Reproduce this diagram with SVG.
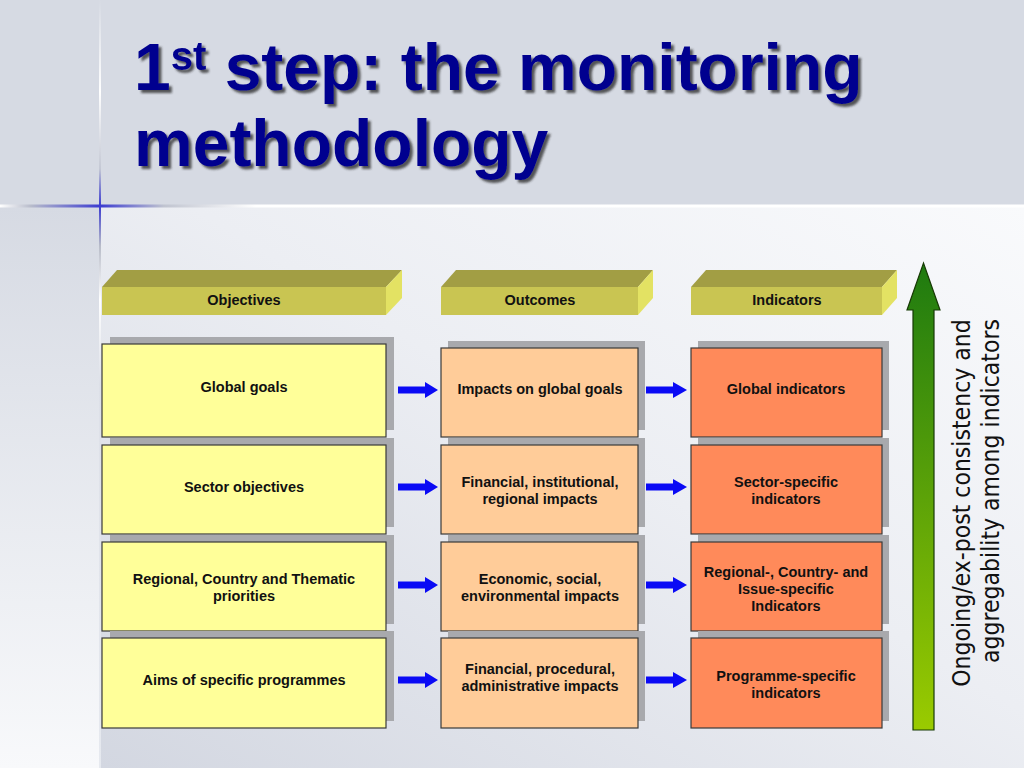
<svg xmlns="http://www.w3.org/2000/svg" width="1024" height="768" viewBox="0 0 1024 768">
  <defs>
    <linearGradient id="bodyGrad" x1="0" y1="1" x2="1" y2="0">
      <stop offset="0" stop-color="#d3d7e1"/>
      <stop offset="0.55" stop-color="#eceef3"/>
      <stop offset="1" stop-color="#f9fafc"/>
    </linearGradient>
    <linearGradient id="leftGrad" x1="0" y1="0" x2="0" y2="1">
      <stop offset="0" stop-color="#d6dae3"/>
      <stop offset="1" stop-color="#f8f9fb"/>
    </linearGradient>
    <linearGradient id="hLine" x1="0" y1="0" x2="1024" y2="0" gradientUnits="userSpaceOnUse">
      <stop offset="0" stop-color="#ffffff"/>
      <stop offset="0.03" stop-color="#b8bccb"/>
      <stop offset="0.098" stop-color="#3b3bd0"/>
      <stop offset="0.16" stop-color="#c0c4d0"/>
      <stop offset="0.25" stop-color="#ffffff"/>
      <stop offset="1" stop-color="#ffffff"/>
    </linearGradient>
    <linearGradient id="vLine" x1="0" y1="0" x2="0" y2="768" gradientUnits="userSpaceOnUse">
      <stop offset="0" stop-color="#d6dae3"/>
      <stop offset="0.12" stop-color="#ffffff"/>
      <stop offset="0.22" stop-color="#c4c8d4"/>
      <stop offset="0.268" stop-color="#3b3bd0"/>
      <stop offset="0.32" stop-color="#b8bcc8"/>
      <stop offset="0.39" stop-color="#ffffff"/>
      <stop offset="0.5" stop-color="#dde0e8"/>
      <stop offset="1" stop-color="#e6e9ef"/>
    </linearGradient>
    <linearGradient id="greenGrad" x1="0" y1="0" x2="0" y2="1">
      <stop offset="0" stop-color="#1e7a10"/>
      <stop offset="1" stop-color="#9acb00"/>
    </linearGradient>
    <filter id="titleShadow" x="-5%" y="-10%" width="110%" height="130%">
      <feGaussianBlur in="SourceAlpha" stdDeviation="0.8"/>
      <feOffset dx="3" dy="3" result="o"/>
      <feFlood flood-color="#2a2a2a" flood-opacity="0.75"/>
      <feComposite in2="o" operator="in"/>
      <feMerge>
        <feMergeNode/>
        <feMergeNode in="SourceGraphic"/>
      </feMerge>
    </filter>
  </defs>
  <style>
    .title { font-family: "Liberation Sans", Arial, sans-serif; font-weight: bold; font-size: 66px; fill: #00008f; }
    .lbl { font-family: "Liberation Sans", Arial, sans-serif; font-weight: bold; font-size: 14.5px; fill: #111111; text-anchor: middle; }
    .side { font-family: "DejaVu Sans Condensed", "DejaVu Sans", sans-serif; font-size: 24.5px; fill: #111111; text-anchor: middle; }
    .front { fill: #c9c552; }
    .top { fill: #a29e44; }
    .right { fill: #e3e263; }
    .shadow { fill: #a8a9ad; }
    .obj { fill: #ffff99; stroke: #3a3a3a; stroke-width: 1.2; }
    .out { fill: #ffcc99; stroke: #3a3a3a; stroke-width: 1.2; }
    .ind { fill: #ff8a5a; stroke: #3a3a3a; stroke-width: 1.2; }
    .arrow { fill: #0a0af5; }
  </style>

  <!-- background -->
  <rect x="0" y="0" width="1024" height="768" fill="#d6dae3"/>
  <rect x="0" y="207" width="100" height="561" fill="url(#leftGrad)"/>
  <rect x="100" y="207" width="924" height="561" fill="url(#bodyGrad)"/>
  <rect x="0" y="204.5" width="1024" height="3" fill="url(#hLine)"/>
  <rect x="99" y="0" width="2" height="768" fill="url(#vLine)"/>

  <!-- title -->
  <g id="title" filter="url(#titleShadow)">
    <text class="title" x="134" y="90">1<tspan font-size="40" dy="-20">st</tspan><tspan dy="20"> step: the monitoring</tspan></text>
    <text class="title" x="134" y="166">methodology</text>
  </g>

  <!-- column headers -->
  <g id="hdr-objectives">
    <polygon class="top" points="102,287 117,270 402,270 386,287"/>
    <polygon class="right" points="386,287 402,270 402,298 386,315"/>
    <rect class="front" x="102" y="287" width="284" height="28"/>
    <text class="lbl" x="244" y="305">Objectives</text>
  </g>
  <g id="hdr-outcomes">
    <polygon class="top" points="441,287 456,270 653,270 638,287"/>
    <polygon class="right" points="638,287 653,270 653,298 638,315"/>
    <rect class="front" x="441" y="287" width="197" height="28"/>
    <text class="lbl" x="540" y="305">Outcomes</text>
  </g>
  <g id="hdr-indicators">
    <polygon class="top" points="691,287 706,270 897,270 882,287"/>
    <polygon class="right" points="882,287 897,270 897,298 882,315"/>
    <rect class="front" x="691" y="287" width="191" height="28"/>
    <text class="lbl" x="787" y="305">Indicators</text>
  </g>

  <!-- objectives column -->
  <g id="obj-global">
    <rect class="shadow" x="110" y="337" width="284" height="93"/>
    <rect class="obj" x="102" y="344" width="284" height="93"/>
    <text class="lbl" x="244" y="392">Global goals</text>
  </g>
  <g id="obj-sector">
    <rect class="shadow" x="110" y="438" width="284" height="89"/>
    <rect class="obj" x="102" y="445" width="284" height="89"/>
    <text class="lbl" x="244" y="492">Sector objectives</text>
  </g>
  <g id="obj-regional">
    <rect class="shadow" x="110" y="535" width="284" height="89"/>
    <rect class="obj" x="102" y="542" width="284" height="89"/>
    <text class="lbl" x="244" y="584">Regional, Country and Thematic</text>
    <text class="lbl" x="244" y="601">priorities</text>
  </g>
  <g id="obj-programmes">
    <rect class="shadow" x="110" y="631" width="284" height="90"/>
    <rect class="obj" x="102" y="638" width="284" height="90"/>
    <text class="lbl" x="244" y="685">Aims of specific programmes</text>
  </g>

  <!-- outcomes column -->
  <g id="out-global">
    <rect class="shadow" x="448" y="341" width="197" height="89"/>
    <rect class="out" x="441" y="348" width="197" height="89"/>
    <text class="lbl" x="540" y="394">Impacts on global goals</text>
  </g>
  <g id="out-sector">
    <rect class="shadow" x="448" y="438" width="197" height="89"/>
    <rect class="out" x="441" y="445" width="197" height="89"/>
    <text class="lbl" x="540" y="487">Financial, institutional,</text>
    <text class="lbl" x="540" y="504">regional impacts</text>
  </g>
  <g id="out-regional">
    <rect class="shadow" x="448" y="535" width="197" height="89"/>
    <rect class="out" x="441" y="542" width="197" height="89"/>
    <text class="lbl" x="540" y="584">Economic, social,</text>
    <text class="lbl" x="540" y="601">environmental impacts</text>
  </g>
  <g id="out-programmes">
    <rect class="shadow" x="448" y="631" width="197" height="90"/>
    <rect class="out" x="441" y="638" width="197" height="90"/>
    <text class="lbl" x="540" y="674">Financial, procedural,</text>
    <text class="lbl" x="540" y="691">administrative impacts</text>
  </g>

  <!-- indicators column -->
  <g id="ind-global">
    <rect class="shadow" x="698" y="341" width="191" height="89"/>
    <rect class="ind" x="691" y="348" width="191" height="89"/>
    <text class="lbl" x="786" y="394">Global indicators</text>
  </g>
  <g id="ind-sector">
    <rect class="shadow" x="698" y="438" width="191" height="89"/>
    <rect class="ind" x="691" y="445" width="191" height="89"/>
    <text class="lbl" x="786" y="487">Sector-specific</text>
    <text class="lbl" x="786" y="504">indicators</text>
  </g>
  <g id="ind-regional">
    <rect class="shadow" x="698" y="535" width="191" height="89"/>
    <rect class="ind" x="691" y="542" width="191" height="89"/>
    <text class="lbl" x="786" y="577">Regional-, Country- and</text>
    <text class="lbl" x="786" y="594">Issue-specific</text>
    <text class="lbl" x="786" y="611">Indicators</text>
  </g>
  <g id="ind-programmes">
    <rect class="shadow" x="698" y="631" width="191" height="90"/>
    <rect class="ind" x="691" y="638" width="191" height="90"/>
    <text class="lbl" x="786" y="681">Programme-specific</text>
    <text class="lbl" x="786" y="698">indicators</text>
  </g>

  <!-- connectors -->
  <g id="connectors">
    <polygon class="arrow" points="398,386.5 425,386.5 425,382 438,390 425,398 425,393.5 398,393.5"/>
    <polygon class="arrow" points="398,483.5 425,483.5 425,479 438,487 425,495 425,490.5 398,490.5"/>
    <polygon class="arrow" points="398,581.5 425,581.5 425,577 438,585 425,593 425,588.5 398,588.5"/>
    <polygon class="arrow" points="398,676.5 425,676.5 425,672 438,680 425,688 425,683.5 398,683.5"/>
    <polygon class="arrow" points="646,386.5 673,386.5 673,382 687,390 673,398 673,393.5 646,393.5"/>
    <polygon class="arrow" points="646,483.5 673,483.5 673,479 687,487 673,495 673,490.5 646,490.5"/>
    <polygon class="arrow" points="646,581.5 673,581.5 673,577 687,585 673,593 673,588.5 646,588.5"/>
    <polygon class="arrow" points="646,676.5 673,676.5 673,672 687,680 673,688 673,683.5 646,683.5"/>
  </g>

  <!-- green consistency arrow -->
  <g id="consistency">
    <polygon points="913,730 913,310 907,310 923.5,263 940,310 934,310 934,730" fill="url(#greenGrad)" stroke="#173a05" stroke-width="1.2"/>
    <text class="side" transform="translate(970,503) rotate(-90)">Ongoing/ex-post consistency and</text>
    <text class="side" transform="translate(999,491) rotate(-90)">aggregability among indicators</text>
  </g>
</svg>
